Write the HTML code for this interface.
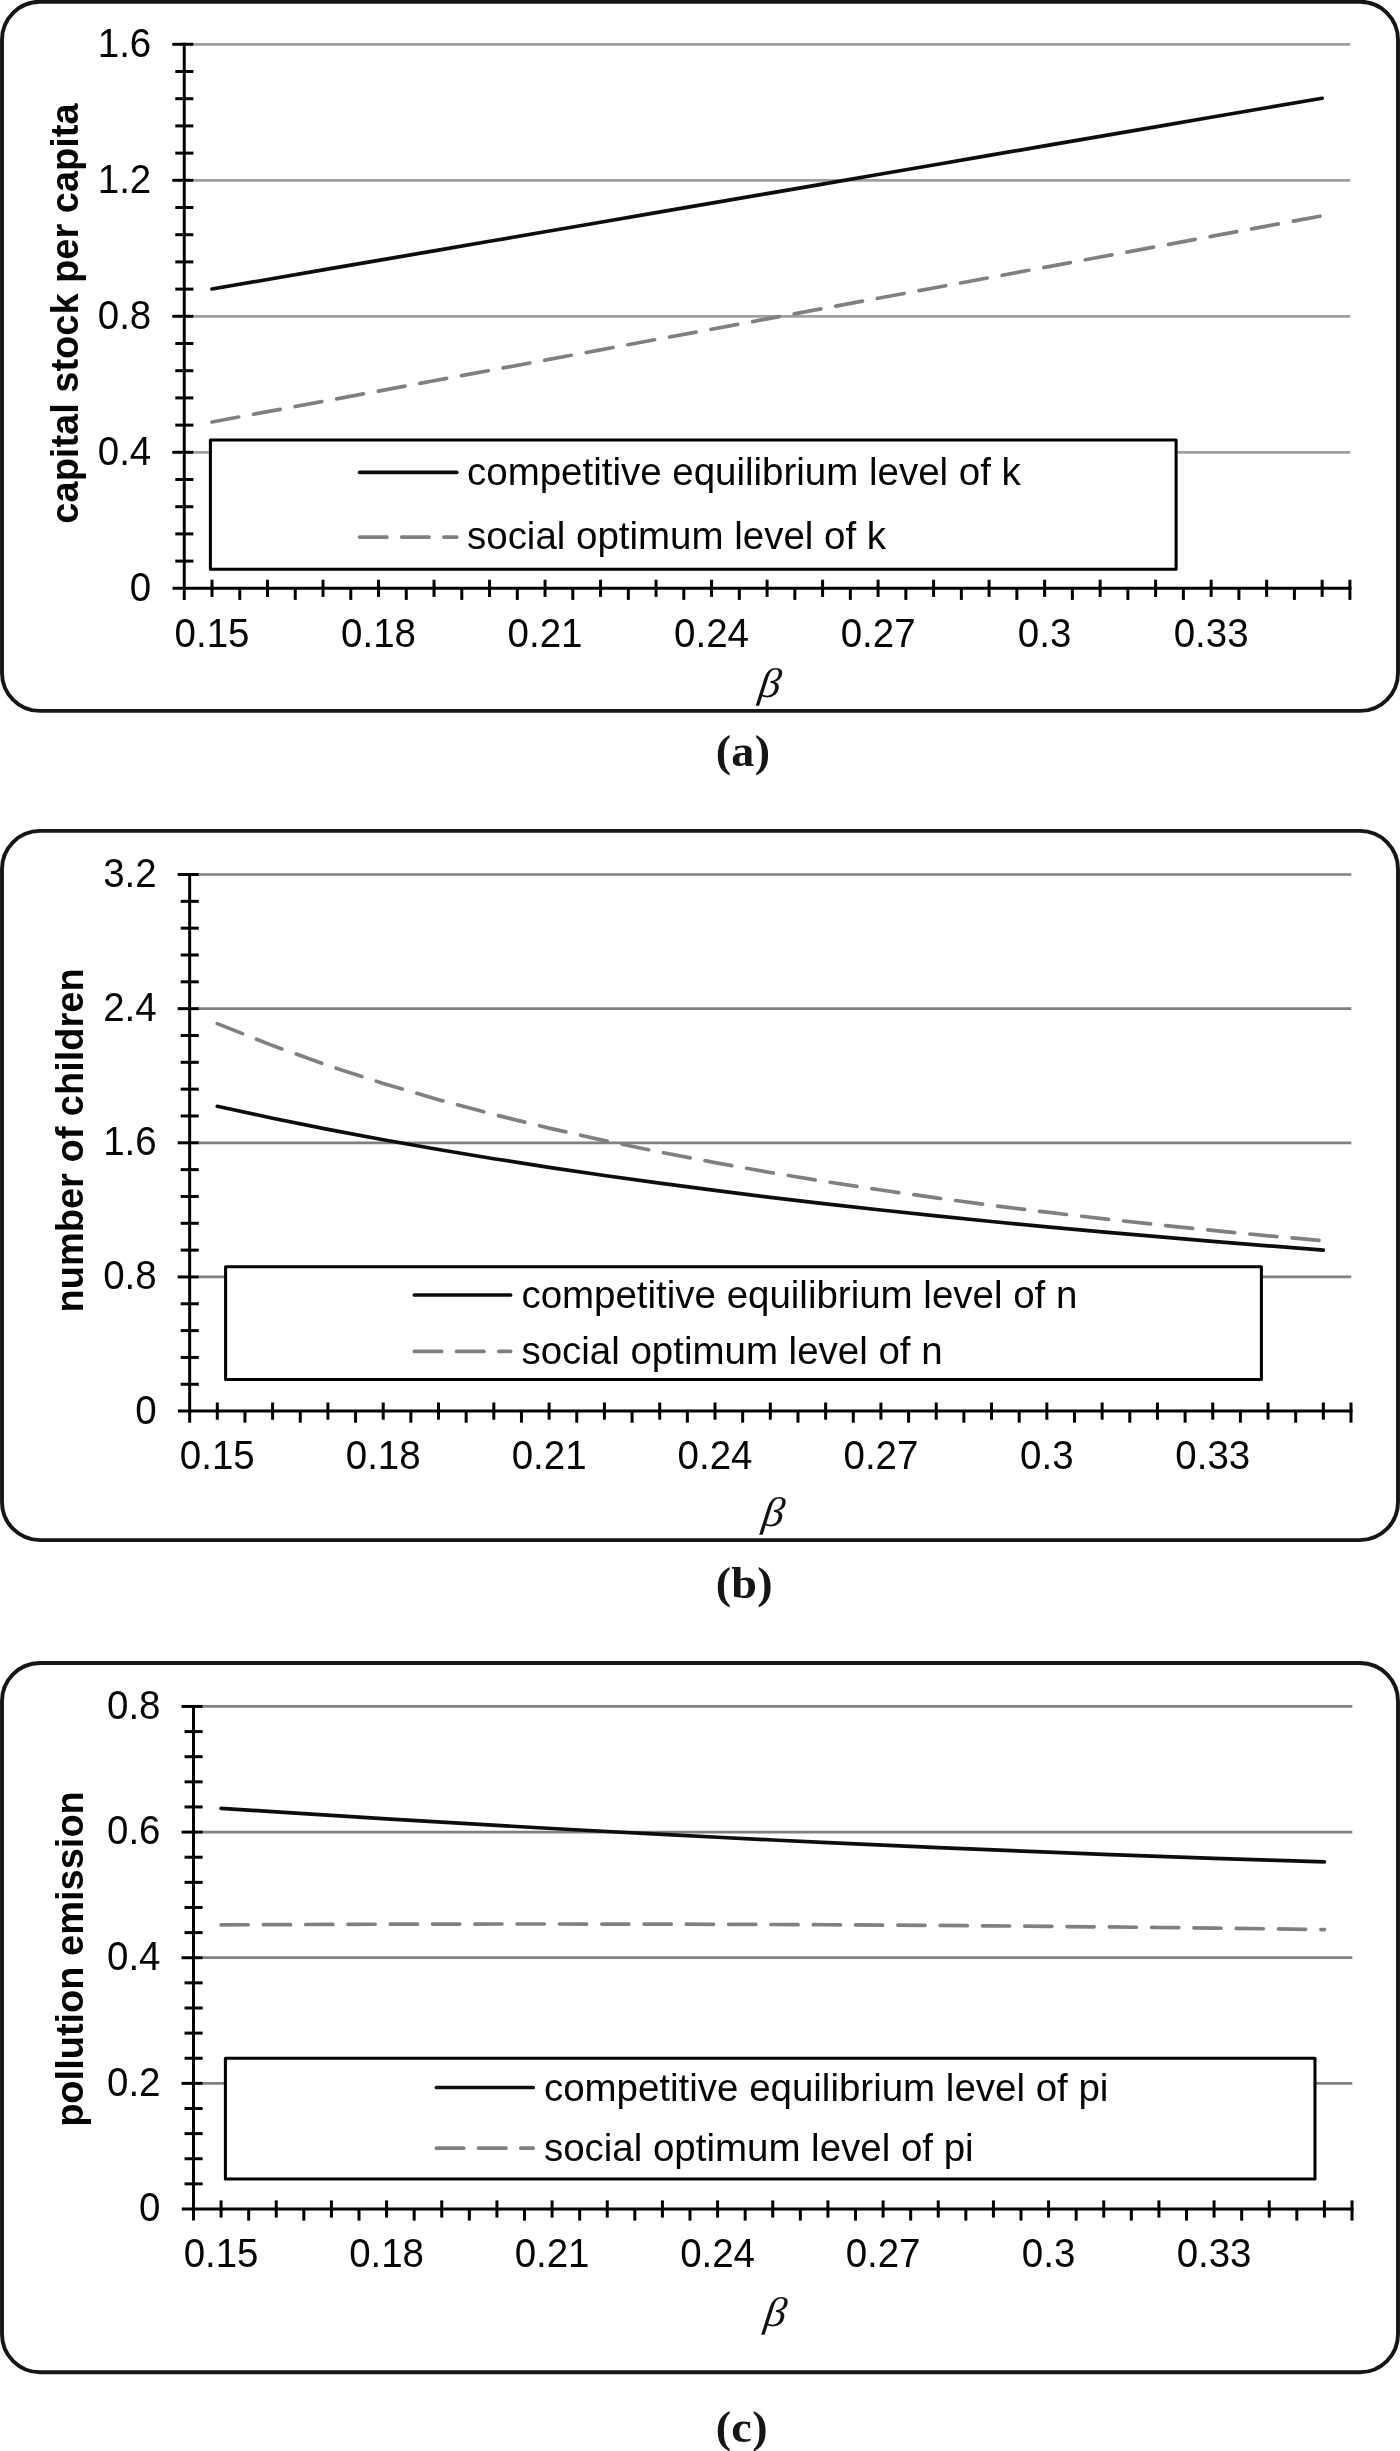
<!DOCTYPE html>
<html><head><meta charset="utf-8"><title>Figure</title>
<style>
html,body{margin:0;padding:0;background:#fff;}
body{width:1400px;height:2451px;overflow:hidden;font-family:"Liberation Sans",sans-serif;}
svg{display:block;will-change:transform;}
svg text{font-family:"Liberation Sans",sans-serif;fill:#050505;}
svg text.beta{font-family:"Liberation Serif",serif;fill:#111;}
svg text.cap{font-family:"Liberation Serif",serif;fill:#151515;}
</style></head><body>
<svg width="1400" height="2451" viewBox="0 0 1400 2451">
<rect x="0" y="0" width="1400" height="2451" fill="#fff"/>
<rect x="2" y="1.70" width="1396" height="709.2" rx="38" ry="38" fill="#fff" stroke="#161616" stroke-width="3.9"/>
<line x1="193.25" y1="452.30" x2="1350.20" y2="452.30" stroke="#a0a0a0" stroke-width="2.7"/>
<line x1="193.25" y1="316.30" x2="1350.20" y2="316.30" stroke="#a0a0a0" stroke-width="2.7"/>
<line x1="193.25" y1="180.30" x2="1350.20" y2="180.30" stroke="#a0a0a0" stroke-width="2.7"/>
<line x1="193.25" y1="44.30" x2="1350.20" y2="44.30" stroke="#a0a0a0" stroke-width="2.7"/>
<path d="M212.00 289.00 L267.51 279.46 L323.02 269.92 L378.53 260.38 L434.03 250.84 L489.54 241.30 L545.05 231.76 L600.55 222.22 L656.06 212.68 L711.57 203.14 L767.08 193.60 L822.58 184.06 L878.09 174.52 L933.60 164.98 L989.10 155.44 L1044.61 145.90 L1100.12 136.36 L1155.63 126.82 L1211.13 117.28 L1266.64 107.74 L1322.15 98.20" fill="none" stroke="#0d0d0d" stroke-width="3.7" stroke-linecap="round" stroke-linejoin="round"/>
<path d="M212.00 422.00 L267.51 411.69 L323.02 401.38 L378.53 391.07 L434.03 380.76 L489.54 370.45 L545.05 360.14 L600.55 349.83 L656.06 339.52 L711.57 329.21 L767.08 318.90 L822.58 308.59 L878.09 298.28 L933.60 287.97 L989.10 277.66 L1044.61 267.35 L1100.12 257.04 L1155.63 246.73 L1211.13 236.42 L1266.64 226.11 L1322.15 215.80" fill="none" stroke="#808080" stroke-width="3.7" stroke-linecap="round" stroke-linejoin="round" stroke-dasharray="27.1 15.2"/>
<rect x="210.4" y="440.0" width="965.70" height="129.20" fill="#fff" stroke="#000" stroke-width="3.05" stroke-linejoin="round"/>
<line x1="359.55" y1="472.3" x2="456.75" y2="472.3" stroke="#0d0d0d" stroke-width="3.7" stroke-linecap="round"/>
<text x="467.0" y="485.0" font-size="38.48">competitive equilibrium level of k</text>
<line x1="359.55" y1="537.1" x2="386.85" y2="537.1" stroke="#808080" stroke-width="3.7" stroke-linecap="round"/>
<line x1="401.75" y1="537.1" x2="429.05" y2="537.1" stroke="#808080" stroke-width="3.7" stroke-linecap="round"/>
<line x1="443.95" y1="537.1" x2="456.75" y2="537.1" stroke="#808080" stroke-width="3.7" stroke-linecap="round"/>
<text x="467.0" y="549.2" font-size="38.48">social optimum level of k</text>
<line x1="184.25" y1="42.80" x2="184.25" y2="599.90" stroke="#000000" stroke-width="3.0"/>
<line x1="172.55" y1="588.30" x2="1351.40" y2="588.30" stroke="#000000" stroke-width="3.0"/>
<line x1="175.30" y1="561.10" x2="193.40" y2="561.10" stroke="#000000" stroke-width="3.0"/>
<line x1="175.30" y1="533.90" x2="193.40" y2="533.90" stroke="#000000" stroke-width="3.0"/>
<line x1="175.30" y1="506.70" x2="193.40" y2="506.70" stroke="#000000" stroke-width="3.0"/>
<line x1="175.30" y1="479.50" x2="193.40" y2="479.50" stroke="#000000" stroke-width="3.0"/>
<line x1="172.30" y1="452.30" x2="193.40" y2="452.30" stroke="#000000" stroke-width="3.0"/>
<line x1="175.30" y1="425.10" x2="193.40" y2="425.10" stroke="#000000" stroke-width="3.0"/>
<line x1="175.30" y1="397.90" x2="193.40" y2="397.90" stroke="#000000" stroke-width="3.0"/>
<line x1="175.30" y1="370.70" x2="193.40" y2="370.70" stroke="#000000" stroke-width="3.0"/>
<line x1="175.30" y1="343.50" x2="193.40" y2="343.50" stroke="#000000" stroke-width="3.0"/>
<line x1="172.30" y1="316.30" x2="193.40" y2="316.30" stroke="#000000" stroke-width="3.0"/>
<line x1="175.30" y1="289.10" x2="193.40" y2="289.10" stroke="#000000" stroke-width="3.0"/>
<line x1="175.30" y1="261.90" x2="193.40" y2="261.90" stroke="#000000" stroke-width="3.0"/>
<line x1="175.30" y1="234.70" x2="193.40" y2="234.70" stroke="#000000" stroke-width="3.0"/>
<line x1="175.30" y1="207.50" x2="193.40" y2="207.50" stroke="#000000" stroke-width="3.0"/>
<line x1="172.30" y1="180.30" x2="193.40" y2="180.30" stroke="#000000" stroke-width="3.0"/>
<line x1="175.30" y1="153.10" x2="193.40" y2="153.10" stroke="#000000" stroke-width="3.0"/>
<line x1="175.30" y1="125.90" x2="193.40" y2="125.90" stroke="#000000" stroke-width="3.0"/>
<line x1="175.30" y1="98.70" x2="193.40" y2="98.70" stroke="#000000" stroke-width="3.0"/>
<line x1="175.30" y1="71.50" x2="193.40" y2="71.50" stroke="#000000" stroke-width="3.0"/>
<line x1="172.30" y1="44.30" x2="193.40" y2="44.30" stroke="#000000" stroke-width="3.0"/>
<line x1="212.00" y1="579.70" x2="212.00" y2="596.90" stroke="#000000" stroke-width="3.0"/>
<line x1="239.76" y1="588.30" x2="239.76" y2="599.90" stroke="#000000" stroke-width="3.0"/>
<line x1="267.51" y1="579.70" x2="267.51" y2="596.90" stroke="#000000" stroke-width="3.0"/>
<line x1="295.26" y1="588.30" x2="295.26" y2="599.90" stroke="#000000" stroke-width="3.0"/>
<line x1="323.02" y1="579.70" x2="323.02" y2="596.90" stroke="#000000" stroke-width="3.0"/>
<line x1="350.77" y1="588.30" x2="350.77" y2="599.90" stroke="#000000" stroke-width="3.0"/>
<line x1="378.52" y1="579.70" x2="378.52" y2="596.90" stroke="#000000" stroke-width="3.0"/>
<line x1="406.28" y1="588.30" x2="406.28" y2="599.90" stroke="#000000" stroke-width="3.0"/>
<line x1="434.03" y1="579.70" x2="434.03" y2="596.90" stroke="#000000" stroke-width="3.0"/>
<line x1="461.79" y1="588.30" x2="461.79" y2="599.90" stroke="#000000" stroke-width="3.0"/>
<line x1="489.54" y1="579.70" x2="489.54" y2="596.90" stroke="#000000" stroke-width="3.0"/>
<line x1="517.29" y1="588.30" x2="517.29" y2="599.90" stroke="#000000" stroke-width="3.0"/>
<line x1="545.05" y1="579.70" x2="545.05" y2="596.90" stroke="#000000" stroke-width="3.0"/>
<line x1="572.80" y1="588.30" x2="572.80" y2="599.90" stroke="#000000" stroke-width="3.0"/>
<line x1="600.55" y1="579.70" x2="600.55" y2="596.90" stroke="#000000" stroke-width="3.0"/>
<line x1="628.31" y1="588.30" x2="628.31" y2="599.90" stroke="#000000" stroke-width="3.0"/>
<line x1="656.06" y1="579.70" x2="656.06" y2="596.90" stroke="#000000" stroke-width="3.0"/>
<line x1="683.81" y1="588.30" x2="683.81" y2="599.90" stroke="#000000" stroke-width="3.0"/>
<line x1="711.57" y1="579.70" x2="711.57" y2="596.90" stroke="#000000" stroke-width="3.0"/>
<line x1="739.32" y1="588.30" x2="739.32" y2="599.90" stroke="#000000" stroke-width="3.0"/>
<line x1="767.08" y1="579.70" x2="767.08" y2="596.90" stroke="#000000" stroke-width="3.0"/>
<line x1="794.83" y1="588.30" x2="794.83" y2="599.90" stroke="#000000" stroke-width="3.0"/>
<line x1="822.58" y1="579.70" x2="822.58" y2="596.90" stroke="#000000" stroke-width="3.0"/>
<line x1="850.34" y1="588.30" x2="850.34" y2="599.90" stroke="#000000" stroke-width="3.0"/>
<line x1="878.09" y1="579.70" x2="878.09" y2="596.90" stroke="#000000" stroke-width="3.0"/>
<line x1="905.84" y1="588.30" x2="905.84" y2="599.90" stroke="#000000" stroke-width="3.0"/>
<line x1="933.60" y1="579.70" x2="933.60" y2="596.90" stroke="#000000" stroke-width="3.0"/>
<line x1="961.35" y1="588.30" x2="961.35" y2="599.90" stroke="#000000" stroke-width="3.0"/>
<line x1="989.10" y1="579.70" x2="989.10" y2="596.90" stroke="#000000" stroke-width="3.0"/>
<line x1="1016.86" y1="588.30" x2="1016.86" y2="599.90" stroke="#000000" stroke-width="3.0"/>
<line x1="1044.61" y1="579.70" x2="1044.61" y2="596.90" stroke="#000000" stroke-width="3.0"/>
<line x1="1072.36" y1="588.30" x2="1072.36" y2="599.90" stroke="#000000" stroke-width="3.0"/>
<line x1="1100.12" y1="579.70" x2="1100.12" y2="596.90" stroke="#000000" stroke-width="3.0"/>
<line x1="1127.87" y1="588.30" x2="1127.87" y2="599.90" stroke="#000000" stroke-width="3.0"/>
<line x1="1155.62" y1="579.70" x2="1155.62" y2="596.90" stroke="#000000" stroke-width="3.0"/>
<line x1="1183.38" y1="588.30" x2="1183.38" y2="599.90" stroke="#000000" stroke-width="3.0"/>
<line x1="1211.13" y1="579.70" x2="1211.13" y2="596.90" stroke="#000000" stroke-width="3.0"/>
<line x1="1238.89" y1="588.30" x2="1238.89" y2="599.90" stroke="#000000" stroke-width="3.0"/>
<line x1="1266.64" y1="579.70" x2="1266.64" y2="596.90" stroke="#000000" stroke-width="3.0"/>
<line x1="1294.39" y1="588.30" x2="1294.39" y2="599.90" stroke="#000000" stroke-width="3.0"/>
<line x1="1322.15" y1="579.70" x2="1322.15" y2="596.90" stroke="#000000" stroke-width="3.0"/>
<line x1="1349.90" y1="579.70" x2="1349.90" y2="599.90" stroke="#000000" stroke-width="3.0"/>
<text transform="translate(151.25,600.70) scale(1,1.04)" font-size="38.48" text-anchor="end">0</text>
<text transform="translate(151.25,464.70) scale(1,1.04)" font-size="38.48" text-anchor="end">0.4</text>
<text transform="translate(151.25,328.70) scale(1,1.04)" font-size="38.48" text-anchor="end">0.8</text>
<text transform="translate(151.25,192.70) scale(1,1.04)" font-size="38.48" text-anchor="end">1.2</text>
<text transform="translate(151.25,56.70) scale(1,1.04)" font-size="38.48" text-anchor="end">1.6</text>
<text transform="translate(212.00,646.60) scale(1,1.04)" font-size="38.48" text-anchor="middle">0.15</text>
<text transform="translate(378.52,646.60) scale(1,1.04)" font-size="38.48" text-anchor="middle">0.18</text>
<text transform="translate(545.05,646.60) scale(1,1.04)" font-size="38.48" text-anchor="middle">0.21</text>
<text transform="translate(711.57,646.60) scale(1,1.04)" font-size="38.48" text-anchor="middle">0.24</text>
<text transform="translate(878.09,646.60) scale(1,1.04)" font-size="38.48" text-anchor="middle">0.27</text>
<text transform="translate(1044.61,646.60) scale(1,1.04)" font-size="38.48" text-anchor="middle">0.3</text>
<text transform="translate(1211.13,646.60) scale(1,1.04)" font-size="38.48" text-anchor="middle">0.33</text>
<text transform="translate(77.6,313.5) rotate(-90)" font-size="38.0" font-weight="bold" text-anchor="middle">capital stock per capita</text>
<text transform="translate(768.4,697) skewX(-7.5) scale(1.06,1)" font-size="41.2" font-style="italic" text-anchor="middle" class="beta">β</text>
<text transform="translate(715.7,766.1999999999999) scale(1.025,1)" font-size="45" font-weight="bold" letter-spacing="0.3" class="cap">(a)</text>
<rect x="2" y="830.90" width="1396" height="709.2" rx="38" ry="38" fill="#fff" stroke="#161616" stroke-width="3.9"/>
<line x1="198.65" y1="1276.95" x2="1351.30" y2="1276.95" stroke="#808080" stroke-width="2.7"/>
<line x1="198.65" y1="1142.80" x2="1351.30" y2="1142.80" stroke="#808080" stroke-width="2.7"/>
<line x1="198.65" y1="1008.65" x2="1351.30" y2="1008.65" stroke="#808080" stroke-width="2.7"/>
<line x1="198.65" y1="874.50" x2="1351.30" y2="874.50" stroke="#808080" stroke-width="2.7"/>
<path d="M217.30 1106.30 L272.60 1118.20 L327.91 1129.40 L383.21 1139.80 L438.51 1149.50 L493.81 1158.70 L549.12 1167.30 L604.42 1175.50 L659.72 1183.20 L715.02 1190.40 L770.32 1197.30 L825.63 1203.80 L880.93 1210.00 L936.23 1215.90 L991.53 1221.50 L1046.84 1226.80 L1102.14 1231.90 L1157.44 1236.70 L1212.74 1241.40 L1268.05 1245.80 L1323.35 1250.10" fill="none" stroke="#0d0d0d" stroke-width="3.7" stroke-linecap="round" stroke-linejoin="round"/>
<path d="M217.30 1023.60 L272.60 1045.60 L327.91 1065.50 L383.21 1083.40 L438.51 1099.70 L493.81 1114.50 L549.12 1128.10 L604.42 1140.60 L659.72 1152.00 L715.02 1162.60 L770.32 1172.50 L825.63 1181.60 L880.93 1190.00 L936.23 1197.90 L991.53 1205.30 L1046.84 1212.20 L1102.14 1218.60 L1157.44 1224.70 L1212.74 1230.40 L1268.05 1235.80 L1323.35 1240.80" fill="none" stroke="#808080" stroke-width="3.7" stroke-linecap="round" stroke-linejoin="round" stroke-dasharray="27.1 15.2"/>
<rect x="225.6" y="1266.7" width="1035.80" height="112.80" fill="#fff" stroke="#000" stroke-width="3.05" stroke-linejoin="round"/>
<line x1="414.35" y1="1295.0" x2="510.65" y2="1295.0" stroke="#0d0d0d" stroke-width="3.7" stroke-linecap="round"/>
<text x="521.4" y="1307.6" font-size="38.48">competitive equilibrium level of n</text>
<line x1="414.35" y1="1351.4" x2="441.65" y2="1351.4" stroke="#808080" stroke-width="3.7" stroke-linecap="round"/>
<line x1="456.55" y1="1351.4" x2="483.85" y2="1351.4" stroke="#808080" stroke-width="3.7" stroke-linecap="round"/>
<line x1="498.75" y1="1351.4" x2="510.65" y2="1351.4" stroke="#808080" stroke-width="3.7" stroke-linecap="round"/>
<text x="521.4" y="1364.1" font-size="38.48">social optimum level of n</text>
<line x1="189.65" y1="873.00" x2="189.65" y2="1422.70" stroke="#000000" stroke-width="3.0"/>
<line x1="177.95" y1="1411.10" x2="1352.50" y2="1411.10" stroke="#000000" stroke-width="3.0"/>
<line x1="180.70" y1="1384.27" x2="198.80" y2="1384.27" stroke="#000000" stroke-width="3.0"/>
<line x1="180.70" y1="1357.44" x2="198.80" y2="1357.44" stroke="#000000" stroke-width="3.0"/>
<line x1="180.70" y1="1330.61" x2="198.80" y2="1330.61" stroke="#000000" stroke-width="3.0"/>
<line x1="180.70" y1="1303.78" x2="198.80" y2="1303.78" stroke="#000000" stroke-width="3.0"/>
<line x1="177.70" y1="1276.95" x2="198.80" y2="1276.95" stroke="#000000" stroke-width="3.0"/>
<line x1="180.70" y1="1250.12" x2="198.80" y2="1250.12" stroke="#000000" stroke-width="3.0"/>
<line x1="180.70" y1="1223.29" x2="198.80" y2="1223.29" stroke="#000000" stroke-width="3.0"/>
<line x1="180.70" y1="1196.46" x2="198.80" y2="1196.46" stroke="#000000" stroke-width="3.0"/>
<line x1="180.70" y1="1169.63" x2="198.80" y2="1169.63" stroke="#000000" stroke-width="3.0"/>
<line x1="177.70" y1="1142.80" x2="198.80" y2="1142.80" stroke="#000000" stroke-width="3.0"/>
<line x1="180.70" y1="1115.97" x2="198.80" y2="1115.97" stroke="#000000" stroke-width="3.0"/>
<line x1="180.70" y1="1089.14" x2="198.80" y2="1089.14" stroke="#000000" stroke-width="3.0"/>
<line x1="180.70" y1="1062.31" x2="198.80" y2="1062.31" stroke="#000000" stroke-width="3.0"/>
<line x1="180.70" y1="1035.48" x2="198.80" y2="1035.48" stroke="#000000" stroke-width="3.0"/>
<line x1="177.70" y1="1008.65" x2="198.80" y2="1008.65" stroke="#000000" stroke-width="3.0"/>
<line x1="180.70" y1="981.82" x2="198.80" y2="981.82" stroke="#000000" stroke-width="3.0"/>
<line x1="180.70" y1="954.99" x2="198.80" y2="954.99" stroke="#000000" stroke-width="3.0"/>
<line x1="180.70" y1="928.16" x2="198.80" y2="928.16" stroke="#000000" stroke-width="3.0"/>
<line x1="180.70" y1="901.33" x2="198.80" y2="901.33" stroke="#000000" stroke-width="3.0"/>
<line x1="177.70" y1="874.50" x2="198.80" y2="874.50" stroke="#000000" stroke-width="3.0"/>
<line x1="217.30" y1="1402.50" x2="217.30" y2="1419.70" stroke="#000000" stroke-width="3.0"/>
<line x1="244.95" y1="1411.10" x2="244.95" y2="1422.70" stroke="#000000" stroke-width="3.0"/>
<line x1="272.60" y1="1402.50" x2="272.60" y2="1419.70" stroke="#000000" stroke-width="3.0"/>
<line x1="300.25" y1="1411.10" x2="300.25" y2="1422.70" stroke="#000000" stroke-width="3.0"/>
<line x1="327.91" y1="1402.50" x2="327.91" y2="1419.70" stroke="#000000" stroke-width="3.0"/>
<line x1="355.56" y1="1411.10" x2="355.56" y2="1422.70" stroke="#000000" stroke-width="3.0"/>
<line x1="383.21" y1="1402.50" x2="383.21" y2="1419.70" stroke="#000000" stroke-width="3.0"/>
<line x1="410.86" y1="1411.10" x2="410.86" y2="1422.70" stroke="#000000" stroke-width="3.0"/>
<line x1="438.51" y1="1402.50" x2="438.51" y2="1419.70" stroke="#000000" stroke-width="3.0"/>
<line x1="466.16" y1="1411.10" x2="466.16" y2="1422.70" stroke="#000000" stroke-width="3.0"/>
<line x1="493.81" y1="1402.50" x2="493.81" y2="1419.70" stroke="#000000" stroke-width="3.0"/>
<line x1="521.46" y1="1411.10" x2="521.46" y2="1422.70" stroke="#000000" stroke-width="3.0"/>
<line x1="549.12" y1="1402.50" x2="549.12" y2="1419.70" stroke="#000000" stroke-width="3.0"/>
<line x1="576.77" y1="1411.10" x2="576.77" y2="1422.70" stroke="#000000" stroke-width="3.0"/>
<line x1="604.42" y1="1402.50" x2="604.42" y2="1419.70" stroke="#000000" stroke-width="3.0"/>
<line x1="632.07" y1="1411.10" x2="632.07" y2="1422.70" stroke="#000000" stroke-width="3.0"/>
<line x1="659.72" y1="1402.50" x2="659.72" y2="1419.70" stroke="#000000" stroke-width="3.0"/>
<line x1="687.37" y1="1411.10" x2="687.37" y2="1422.70" stroke="#000000" stroke-width="3.0"/>
<line x1="715.02" y1="1402.50" x2="715.02" y2="1419.70" stroke="#000000" stroke-width="3.0"/>
<line x1="742.67" y1="1411.10" x2="742.67" y2="1422.70" stroke="#000000" stroke-width="3.0"/>
<line x1="770.32" y1="1402.50" x2="770.32" y2="1419.70" stroke="#000000" stroke-width="3.0"/>
<line x1="797.98" y1="1411.10" x2="797.98" y2="1422.70" stroke="#000000" stroke-width="3.0"/>
<line x1="825.63" y1="1402.50" x2="825.63" y2="1419.70" stroke="#000000" stroke-width="3.0"/>
<line x1="853.28" y1="1411.10" x2="853.28" y2="1422.70" stroke="#000000" stroke-width="3.0"/>
<line x1="880.93" y1="1402.50" x2="880.93" y2="1419.70" stroke="#000000" stroke-width="3.0"/>
<line x1="908.58" y1="1411.10" x2="908.58" y2="1422.70" stroke="#000000" stroke-width="3.0"/>
<line x1="936.23" y1="1402.50" x2="936.23" y2="1419.70" stroke="#000000" stroke-width="3.0"/>
<line x1="963.88" y1="1411.10" x2="963.88" y2="1422.70" stroke="#000000" stroke-width="3.0"/>
<line x1="991.53" y1="1402.50" x2="991.53" y2="1419.70" stroke="#000000" stroke-width="3.0"/>
<line x1="1019.19" y1="1411.10" x2="1019.19" y2="1422.70" stroke="#000000" stroke-width="3.0"/>
<line x1="1046.84" y1="1402.50" x2="1046.84" y2="1419.70" stroke="#000000" stroke-width="3.0"/>
<line x1="1074.49" y1="1411.10" x2="1074.49" y2="1422.70" stroke="#000000" stroke-width="3.0"/>
<line x1="1102.14" y1="1402.50" x2="1102.14" y2="1419.70" stroke="#000000" stroke-width="3.0"/>
<line x1="1129.79" y1="1411.10" x2="1129.79" y2="1422.70" stroke="#000000" stroke-width="3.0"/>
<line x1="1157.44" y1="1402.50" x2="1157.44" y2="1419.70" stroke="#000000" stroke-width="3.0"/>
<line x1="1185.09" y1="1411.10" x2="1185.09" y2="1422.70" stroke="#000000" stroke-width="3.0"/>
<line x1="1212.74" y1="1402.50" x2="1212.74" y2="1419.70" stroke="#000000" stroke-width="3.0"/>
<line x1="1240.40" y1="1411.10" x2="1240.40" y2="1422.70" stroke="#000000" stroke-width="3.0"/>
<line x1="1268.05" y1="1402.50" x2="1268.05" y2="1419.70" stroke="#000000" stroke-width="3.0"/>
<line x1="1295.70" y1="1411.10" x2="1295.70" y2="1422.70" stroke="#000000" stroke-width="3.0"/>
<line x1="1323.35" y1="1402.50" x2="1323.35" y2="1419.70" stroke="#000000" stroke-width="3.0"/>
<line x1="1351.00" y1="1402.50" x2="1351.00" y2="1422.70" stroke="#000000" stroke-width="3.0"/>
<text transform="translate(156.65,1423.50) scale(1,1.04)" font-size="38.48" text-anchor="end">0</text>
<text transform="translate(156.65,1289.35) scale(1,1.04)" font-size="38.48" text-anchor="end">0.8</text>
<text transform="translate(156.65,1155.20) scale(1,1.04)" font-size="38.48" text-anchor="end">1.6</text>
<text transform="translate(156.65,1021.05) scale(1,1.04)" font-size="38.48" text-anchor="end">2.4</text>
<text transform="translate(156.65,886.90) scale(1,1.04)" font-size="38.48" text-anchor="end">3.2</text>
<text transform="translate(217.30,1469.40) scale(1,1.04)" font-size="38.48" text-anchor="middle">0.15</text>
<text transform="translate(383.21,1469.40) scale(1,1.04)" font-size="38.48" text-anchor="middle">0.18</text>
<text transform="translate(549.12,1469.40) scale(1,1.04)" font-size="38.48" text-anchor="middle">0.21</text>
<text transform="translate(715.02,1469.40) scale(1,1.04)" font-size="38.48" text-anchor="middle">0.24</text>
<text transform="translate(880.93,1469.40) scale(1,1.04)" font-size="38.48" text-anchor="middle">0.27</text>
<text transform="translate(1046.84,1469.40) scale(1,1.04)" font-size="38.48" text-anchor="middle">0.3</text>
<text transform="translate(1212.74,1469.40) scale(1,1.04)" font-size="38.48" text-anchor="middle">0.33</text>
<text transform="translate(83.1,1140.4) rotate(-90)" font-size="38.0" font-weight="bold" text-anchor="middle">number of children</text>
<text transform="translate(771.9,1526.3) skewX(-7.5) scale(1.06,1)" font-size="41.2" font-style="italic" text-anchor="middle" class="beta">β</text>
<text transform="translate(715.7,1598.3999999999999) scale(1.025,1)" font-size="45" font-weight="bold" letter-spacing="0.3" class="cap">(b)</text>
<rect x="2" y="1663.00" width="1396" height="709.2" rx="38" ry="38" fill="#fff" stroke="#161616" stroke-width="3.9"/>
<line x1="202.50" y1="2083.36" x2="1352.30" y2="2083.36" stroke="#808080" stroke-width="2.7"/>
<line x1="202.50" y1="1957.72" x2="1352.30" y2="1957.72" stroke="#808080" stroke-width="2.7"/>
<line x1="202.50" y1="1832.09" x2="1352.30" y2="1832.09" stroke="#808080" stroke-width="2.7"/>
<line x1="202.50" y1="1706.45" x2="1352.30" y2="1706.45" stroke="#808080" stroke-width="2.7"/>
<path d="M221.08 1808.30 L276.25 1811.91 L331.42 1815.42 L386.58 1818.84 L441.75 1822.16 L496.92 1825.38 L552.08 1828.50 L607.25 1831.52 L662.42 1834.44 L717.58 1837.27 L772.75 1840.00 L827.92 1842.63 L883.08 1845.16 L938.25 1847.60 L993.42 1849.94 L1048.58 1852.17 L1103.75 1854.32 L1158.92 1856.36 L1214.08 1858.30 L1269.25 1860.15 L1324.42 1861.90" fill="none" stroke="#0d0d0d" stroke-width="3.7" stroke-linecap="round" stroke-linejoin="round"/>
<path d="M221.08 1924.90 L276.25 1924.61 L331.42 1924.38 L386.58 1924.20 L441.75 1924.08 L496.92 1924.01 L552.08 1924.00 L607.25 1924.04 L662.42 1924.14 L717.58 1924.29 L772.75 1924.50 L827.92 1924.76 L883.08 1925.08 L938.25 1925.45 L993.42 1925.88 L1048.58 1926.36 L1103.75 1926.90 L1158.92 1927.49 L1214.08 1928.14 L1269.25 1928.84 L1324.42 1929.60" fill="none" stroke="#808080" stroke-width="3.7" stroke-linecap="round" stroke-linejoin="round" stroke-dasharray="27.1 15.2"/>
<rect x="225.4" y="2058.3" width="1089.60" height="120.60" fill="#fff" stroke="#000" stroke-width="3.05" stroke-linejoin="round"/>
<line x1="436.45" y1="2087.5" x2="533.15" y2="2087.5" stroke="#0d0d0d" stroke-width="3.7" stroke-linecap="round"/>
<text x="543.9" y="2101.0" font-size="38.48">competitive equilibrium level of pi</text>
<line x1="436.45" y1="2148.2" x2="463.75" y2="2148.2" stroke="#808080" stroke-width="3.7" stroke-linecap="round"/>
<line x1="478.65" y1="2148.2" x2="505.95" y2="2148.2" stroke="#808080" stroke-width="3.7" stroke-linecap="round"/>
<line x1="520.85" y1="2148.2" x2="533.15" y2="2148.2" stroke="#808080" stroke-width="3.7" stroke-linecap="round"/>
<text x="543.9" y="2161.4" font-size="38.48">social optimum level of pi</text>
<line x1="193.50" y1="1704.95" x2="193.50" y2="2220.60" stroke="#000000" stroke-width="3.0"/>
<line x1="181.80" y1="2209.00" x2="1353.50" y2="2209.00" stroke="#000000" stroke-width="3.0"/>
<line x1="184.55" y1="2183.87" x2="202.65" y2="2183.87" stroke="#000000" stroke-width="3.0"/>
<line x1="184.55" y1="2158.74" x2="202.65" y2="2158.74" stroke="#000000" stroke-width="3.0"/>
<line x1="184.55" y1="2133.62" x2="202.65" y2="2133.62" stroke="#000000" stroke-width="3.0"/>
<line x1="184.55" y1="2108.49" x2="202.65" y2="2108.49" stroke="#000000" stroke-width="3.0"/>
<line x1="181.55" y1="2083.36" x2="202.65" y2="2083.36" stroke="#000000" stroke-width="3.0"/>
<line x1="184.55" y1="2058.24" x2="202.65" y2="2058.24" stroke="#000000" stroke-width="3.0"/>
<line x1="184.55" y1="2033.11" x2="202.65" y2="2033.11" stroke="#000000" stroke-width="3.0"/>
<line x1="184.55" y1="2007.98" x2="202.65" y2="2007.98" stroke="#000000" stroke-width="3.0"/>
<line x1="184.55" y1="1982.85" x2="202.65" y2="1982.85" stroke="#000000" stroke-width="3.0"/>
<line x1="181.55" y1="1957.72" x2="202.65" y2="1957.72" stroke="#000000" stroke-width="3.0"/>
<line x1="184.55" y1="1932.60" x2="202.65" y2="1932.60" stroke="#000000" stroke-width="3.0"/>
<line x1="184.55" y1="1907.47" x2="202.65" y2="1907.47" stroke="#000000" stroke-width="3.0"/>
<line x1="184.55" y1="1882.34" x2="202.65" y2="1882.34" stroke="#000000" stroke-width="3.0"/>
<line x1="184.55" y1="1857.22" x2="202.65" y2="1857.22" stroke="#000000" stroke-width="3.0"/>
<line x1="181.55" y1="1832.09" x2="202.65" y2="1832.09" stroke="#000000" stroke-width="3.0"/>
<line x1="184.55" y1="1806.96" x2="202.65" y2="1806.96" stroke="#000000" stroke-width="3.0"/>
<line x1="184.55" y1="1781.83" x2="202.65" y2="1781.83" stroke="#000000" stroke-width="3.0"/>
<line x1="184.55" y1="1756.70" x2="202.65" y2="1756.70" stroke="#000000" stroke-width="3.0"/>
<line x1="184.55" y1="1731.58" x2="202.65" y2="1731.58" stroke="#000000" stroke-width="3.0"/>
<line x1="181.55" y1="1706.45" x2="202.65" y2="1706.45" stroke="#000000" stroke-width="3.0"/>
<line x1="221.08" y1="2200.40" x2="221.08" y2="2217.60" stroke="#000000" stroke-width="3.0"/>
<line x1="248.67" y1="2209.00" x2="248.67" y2="2220.60" stroke="#000000" stroke-width="3.0"/>
<line x1="276.25" y1="2200.40" x2="276.25" y2="2217.60" stroke="#000000" stroke-width="3.0"/>
<line x1="303.83" y1="2209.00" x2="303.83" y2="2220.60" stroke="#000000" stroke-width="3.0"/>
<line x1="331.42" y1="2200.40" x2="331.42" y2="2217.60" stroke="#000000" stroke-width="3.0"/>
<line x1="359.00" y1="2209.00" x2="359.00" y2="2220.60" stroke="#000000" stroke-width="3.0"/>
<line x1="386.58" y1="2200.40" x2="386.58" y2="2217.60" stroke="#000000" stroke-width="3.0"/>
<line x1="414.17" y1="2209.00" x2="414.17" y2="2220.60" stroke="#000000" stroke-width="3.0"/>
<line x1="441.75" y1="2200.40" x2="441.75" y2="2217.60" stroke="#000000" stroke-width="3.0"/>
<line x1="469.33" y1="2209.00" x2="469.33" y2="2220.60" stroke="#000000" stroke-width="3.0"/>
<line x1="496.92" y1="2200.40" x2="496.92" y2="2217.60" stroke="#000000" stroke-width="3.0"/>
<line x1="524.50" y1="2209.00" x2="524.50" y2="2220.60" stroke="#000000" stroke-width="3.0"/>
<line x1="552.08" y1="2200.40" x2="552.08" y2="2217.60" stroke="#000000" stroke-width="3.0"/>
<line x1="579.67" y1="2209.00" x2="579.67" y2="2220.60" stroke="#000000" stroke-width="3.0"/>
<line x1="607.25" y1="2200.40" x2="607.25" y2="2217.60" stroke="#000000" stroke-width="3.0"/>
<line x1="634.83" y1="2209.00" x2="634.83" y2="2220.60" stroke="#000000" stroke-width="3.0"/>
<line x1="662.42" y1="2200.40" x2="662.42" y2="2217.60" stroke="#000000" stroke-width="3.0"/>
<line x1="690.00" y1="2209.00" x2="690.00" y2="2220.60" stroke="#000000" stroke-width="3.0"/>
<line x1="717.58" y1="2200.40" x2="717.58" y2="2217.60" stroke="#000000" stroke-width="3.0"/>
<line x1="745.17" y1="2209.00" x2="745.17" y2="2220.60" stroke="#000000" stroke-width="3.0"/>
<line x1="772.75" y1="2200.40" x2="772.75" y2="2217.60" stroke="#000000" stroke-width="3.0"/>
<line x1="800.33" y1="2209.00" x2="800.33" y2="2220.60" stroke="#000000" stroke-width="3.0"/>
<line x1="827.92" y1="2200.40" x2="827.92" y2="2217.60" stroke="#000000" stroke-width="3.0"/>
<line x1="855.50" y1="2209.00" x2="855.50" y2="2220.60" stroke="#000000" stroke-width="3.0"/>
<line x1="883.08" y1="2200.40" x2="883.08" y2="2217.60" stroke="#000000" stroke-width="3.0"/>
<line x1="910.67" y1="2209.00" x2="910.67" y2="2220.60" stroke="#000000" stroke-width="3.0"/>
<line x1="938.25" y1="2200.40" x2="938.25" y2="2217.60" stroke="#000000" stroke-width="3.0"/>
<line x1="965.83" y1="2209.00" x2="965.83" y2="2220.60" stroke="#000000" stroke-width="3.0"/>
<line x1="993.42" y1="2200.40" x2="993.42" y2="2217.60" stroke="#000000" stroke-width="3.0"/>
<line x1="1021.00" y1="2209.00" x2="1021.00" y2="2220.60" stroke="#000000" stroke-width="3.0"/>
<line x1="1048.58" y1="2200.40" x2="1048.58" y2="2217.60" stroke="#000000" stroke-width="3.0"/>
<line x1="1076.17" y1="2209.00" x2="1076.17" y2="2220.60" stroke="#000000" stroke-width="3.0"/>
<line x1="1103.75" y1="2200.40" x2="1103.75" y2="2217.60" stroke="#000000" stroke-width="3.0"/>
<line x1="1131.33" y1="2209.00" x2="1131.33" y2="2220.60" stroke="#000000" stroke-width="3.0"/>
<line x1="1158.92" y1="2200.40" x2="1158.92" y2="2217.60" stroke="#000000" stroke-width="3.0"/>
<line x1="1186.50" y1="2209.00" x2="1186.50" y2="2220.60" stroke="#000000" stroke-width="3.0"/>
<line x1="1214.08" y1="2200.40" x2="1214.08" y2="2217.60" stroke="#000000" stroke-width="3.0"/>
<line x1="1241.67" y1="2209.00" x2="1241.67" y2="2220.60" stroke="#000000" stroke-width="3.0"/>
<line x1="1269.25" y1="2200.40" x2="1269.25" y2="2217.60" stroke="#000000" stroke-width="3.0"/>
<line x1="1296.83" y1="2209.00" x2="1296.83" y2="2220.60" stroke="#000000" stroke-width="3.0"/>
<line x1="1324.42" y1="2200.40" x2="1324.42" y2="2217.60" stroke="#000000" stroke-width="3.0"/>
<line x1="1352.00" y1="2200.40" x2="1352.00" y2="2220.60" stroke="#000000" stroke-width="3.0"/>
<text transform="translate(160.50,2221.40) scale(1,1.04)" font-size="38.48" text-anchor="end">0</text>
<text transform="translate(160.50,2095.76) scale(1,1.04)" font-size="38.48" text-anchor="end">0.2</text>
<text transform="translate(160.50,1970.12) scale(1,1.04)" font-size="38.48" text-anchor="end">0.4</text>
<text transform="translate(160.50,1844.49) scale(1,1.04)" font-size="38.48" text-anchor="end">0.6</text>
<text transform="translate(160.50,1718.85) scale(1,1.04)" font-size="38.48" text-anchor="end">0.8</text>
<text transform="translate(221.08,2267.30) scale(1,1.04)" font-size="38.48" text-anchor="middle">0.15</text>
<text transform="translate(386.58,2267.30) scale(1,1.04)" font-size="38.48" text-anchor="middle">0.18</text>
<text transform="translate(552.08,2267.30) scale(1,1.04)" font-size="38.48" text-anchor="middle">0.21</text>
<text transform="translate(717.58,2267.30) scale(1,1.04)" font-size="38.48" text-anchor="middle">0.24</text>
<text transform="translate(883.08,2267.30) scale(1,1.04)" font-size="38.48" text-anchor="middle">0.27</text>
<text transform="translate(1048.58,2267.30) scale(1,1.04)" font-size="38.48" text-anchor="middle">0.3</text>
<text transform="translate(1214.08,2267.30) scale(1,1.04)" font-size="38.48" text-anchor="middle">0.33</text>
<text transform="translate(82.6,1959.0) rotate(-90)" font-size="38.0" font-weight="bold" text-anchor="middle">pollution emission</text>
<text transform="translate(773.9,2326.2) skewX(-7.5) scale(1.06,1)" font-size="41.2" font-style="italic" text-anchor="middle" class="beta">β</text>
<text transform="translate(715.7,2441.9) scale(1.025,1)" font-size="45" font-weight="bold" letter-spacing="0.3" class="cap">(c)</text>
</svg>
</body></html>
